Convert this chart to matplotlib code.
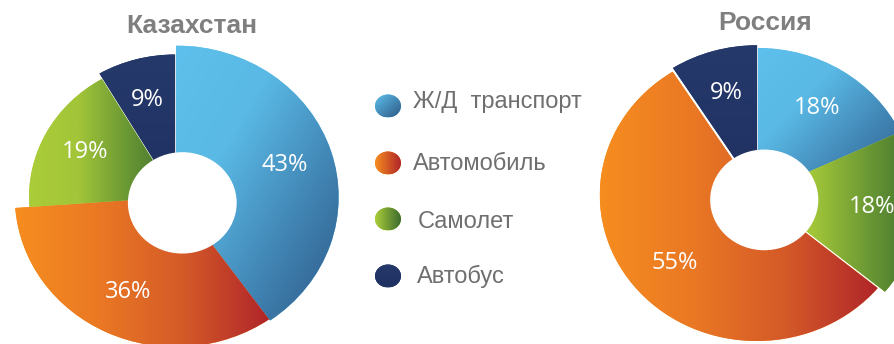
import numpy as np
import matplotlib.pyplot as plt
from matplotlib.colors import LinearSegmentedColormap
from matplotlib.patches import Ellipse, Circle

plt.rcParams['font.family'] = ['Liberation Sans', 'DejaVu Sans']

W, H = 895, 344

modes = ['Ж/Д  транспорт', 'Автомобиль', 'Самолет', 'Автобус']

# slices listed clockwise from 12 o'clock, as indices into modes
kz_title = 'Казахстан'
kz_modes = [0, 1, 2, 3]
kz_values = [43, 36, 19, 9]

ru_title = 'Россия'
ru_modes = [0, 2, 1, 3]
ru_values = [18, 18, 55, 9]

# gradient stops and direction for each mode
grads = {
    0: (['#5ec0ec', '#5ab9e5', '#4287b6', '#2d5886'], 'diag'),
    1: (['#f68d1f', '#ea7824', '#d45a28', '#b0252a'], 'h'),
    2: (['#abcd39', '#a2c539', '#6a9834', '#3b6b2e'], 'h'),
    3: (['#25396b', '#1f3161'], 'v'),
}


def fill_gradient(ax, patch, colors, direction):
    path = patch.get_path().transformed(patch.get_patch_transform())
    (x0, y0), (x1, y1) = path.get_extents().get_points()
    u = np.linspace(0, 1, 256)
    if direction == 'h':
        img = np.tile(u, (256, 1))
    elif direction == 'v':
        img = np.tile(u[:, None], (1, 256))
    else:
        img = (u[None, :] + u[:, None]) / 2
    cmap = LinearSegmentedColormap.from_list('grad', colors)
    im = ax.imshow(img, cmap=cmap, extent=(x0, x1, y0, y1), origin='upper',
                   aspect='auto', interpolation='bilinear', zorder=2)
    im.set_clip_path(patch)


def donut(ax, title, order, values, explode, radii, xlim, ylim, title_xy):
    wedges, _ = ax.pie(values, startangle=90, counterclock=False,
                       explode=explode, colors=[grads[m][0][0] for m in order],
                       wedgeprops=dict(linewidth=0))
    for w, m, r in zip(wedges, order, radii):
        w.set_radius(r)
        fill_gradient(ax, w, *grads[m])
    for w, v in zip(wedges, values):
        mid = np.deg2rad((w.theta1 + w.theta2) / 2)
        cx, cy = w.center
        ax.text(cx + 0.7 * w.r * np.cos(mid), cy + 0.7 * w.r * np.sin(mid),
                f'{v}%', ha='center', va='center', color='white',
                fontsize=17, family=['Open Sans', 'DejaVu Sans'], zorder=5)
    ax.add_patch(Circle((0.04, -0.04), 0.34, color='white', zorder=4))
    ax.set_aspect('auto')
    ax.set_xlim(*xlim)
    ax.set_ylim(*ylim)
    ax.axis('off')
    ax.figure.text(title_xy[0] / W, 1 - title_xy[1] / H, title, ha='center',
                   va='baseline', fontsize=19, fontweight='bold',
                   color='#7f7f7f')


fig = plt.figure(figsize=(W / 100, H / 100), dpi=100)

ax1 = fig.add_axes([0, 0, 360 / W, 1])
donut(ax1, kz_title, kz_modes, kz_values,
      explode=[0.0, 0.0, 0.0, 0.02], radii=[1.03, 1.02, 0.93, 0.95],
      xlim=(-1.114, 1.165), ylim=(-1.0, 1.34), title_xy=(192, 33))

ax2 = fig.add_axes([560 / W, 0, 335 / W, 1])
donut(ax2, ru_title, ru_modes, ru_values,
      explode=[0.0, 0.0, 0.01, 0.02], radii=[1.0, 1.05, 1.0, 1.0],
      xlim=(-1.261, 0.873), ylim=(-1.027, 1.329), title_xy=(765, 30))

# legend: small gradient dots with the mode names
lax = fig.add_axes([360 / W, 0, 230 / W, 1])
lax.set_xlim(360, 590)
lax.set_ylim(0, H)
lax.axis('off')
dot_y = [106, 163, 219, 276]
text_base = [108, 170, 228, 283]
text_x = [413, 413, 418, 417]
for i, name in enumerate(modes):
    stops, direction = grads[i]
    e = Ellipse((388, H - dot_y[i]), 26, 23, color=stops[0], lw=0)
    lax.add_patch(e)
    fill_gradient(lax, e, [stops[0], stops[-1]], direction)
    lax.text(text_x[i], H - text_base[i], name, ha='left', va='baseline',
             fontsize=17, color='#6f6f6f')

fig.savefig('out.png', dpi=100)
